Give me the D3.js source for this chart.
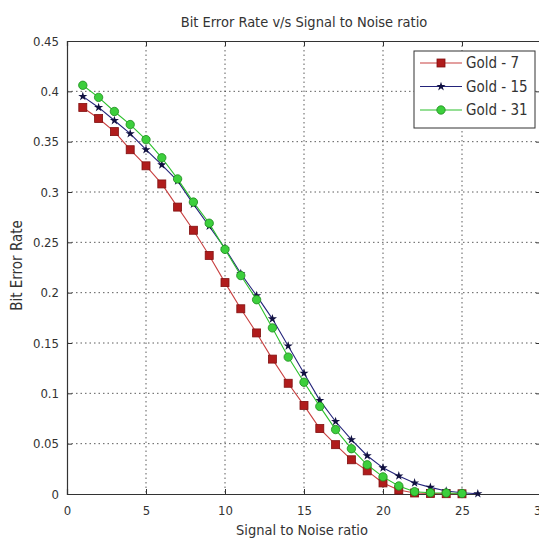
<!DOCTYPE html>
<html>
<head>
<meta charset="utf-8">
<script src="https://cdn.jsdelivr.net/npm/d3@7"></script>
<style>
  body { margin: 0; background: #fff; }
  svg { display: block; font-family: "Liberation Sans Narrow", "Arial Narrow", "DejaVu Sans Condensed", sans-serif; }
  .grid line { stroke: #333; stroke-dasharray: 1.5,3; stroke-width: 0.8; }
</style>
</head>
<body>
<svg id="chart" width="539" height="538"></svg>
<script>
// 数据
const snr = d3.range(1, 27);
const gold7 = [0.384, 0.373, 0.360, 0.342, 0.326, 0.308, 0.285, 0.262, 0.237, 0.210, 0.184, 0.160,
  0.134, 0.110, 0.088, 0.065, 0.049, 0.034, 0.023, 0.011, 0.004, 0.001, 0.0005, 0.0003, 0.0002];
const gold15 = [0.395, 0.384, 0.371, 0.358, 0.342, 0.327, 0.311, 0.288, 0.266, 0.244, 0.219, 0.197,
  0.174, 0.147, 0.120, 0.093, 0.072, 0.054, 0.038, 0.026, 0.018, 0.011, 0.0066, 0.003, 0.0013, 0.0003];
const gold31 = [0.406, 0.394, 0.380, 0.367, 0.352, 0.334, 0.313, 0.290, 0.269, 0.243, 0.217, 0.193,
  0.165, 0.136, 0.111, 0.087, 0.064, 0.045, 0.029, 0.017, 0.008, 0.0023, 0.0013, 0.001, 0.0005];
const xTicks = [0, 5, 10, 15, 20, 25, 30];
const yTicks = [0, 0.05, 0.1, 0.15, 0.2, 0.25, 0.3, 0.35, 0.4, 0.45];

const series = [
  { name: "Gold - 7", values: gold7, line: "#c84040", fill: "#b01c1c", edge: "#801010", marker: "square" },
  { name: "Gold - 15", values: gold15, line: "#23237a", fill: "#101040", edge: "#101040", marker: "star" },
  { name: "Gold - 31", values: gold31, line: "#2cc02c", fill: "#3ccf3c", edge: "#1c8a1c", marker: "circle" }
];

const svg = d3.select("#chart");
const margin = { left: 67, top: 41, right: 541, bottom: 494 };

const x = d3.scaleLinear().domain([0, 30]).range([margin.left, margin.right]);
const y = d3.scaleLinear().domain([0, 0.45]).range([margin.bottom, margin.top]);

// 网格
const grid = svg.append("g").attr("class", "grid");
grid.selectAll(".vx").data(xTicks.slice(1, -1)).enter().append("line")
  .attr("x1", d => x(d)).attr("x2", d => x(d))
  .attr("y1", margin.top).attr("y2", margin.bottom);
grid.selectAll(".hy").data(yTicks.slice(1, -1)).enter().append("line")
  .attr("y1", d => y(d)).attr("y2", d => y(d))
  .attr("x1", margin.left).attr("x2", margin.right);

// 坐标轴
const axisColor = "#333";
const bottomAxis = svg.append("g")
  .attr("transform", `translate(0,${margin.bottom})`)
  .call(d3.axisBottom(x).tickValues(xTicks).tickSize(-5).tickPadding(12).tickFormat(d3.format("d")));
const leftAxis = svg.append("g")
  .attr("transform", `translate(${margin.left},0)`)
  .call(d3.axisLeft(y).tickValues(yTicks).tickSize(-5).tickPadding(8).tickFormat(d => d === 0 ? "0" : String(d)));
const topAxis = svg.append("g")
  .attr("transform", `translate(0,${margin.top})`)
  .call(d3.axisTop(x).tickValues(xTicks).tickSize(-5).tickFormat(""));
const rightAxis = svg.append("g")
  .attr("transform", `translate(${margin.right},0)`)
  .call(d3.axisRight(y).tickValues(yTicks).tickSize(-5).tickFormat(""));

[bottomAxis, leftAxis, topAxis, rightAxis].forEach(g => {
  g.select(".domain").attr("stroke", axisColor).attr("stroke-width", 1.2);
  g.selectAll(".tick line").attr("stroke", axisColor);
  g.selectAll("text").attr("fill", "#333").attr("font-size", 13)
    .attr("font-family", "'Liberation Sans Narrow', 'Arial Narrow', 'DejaVu Sans Condensed', sans-serif");
});

// 曲线与标记
const line = d3.line().x((d, i) => x(snr[i])).y(d => y(d));
const star = d3.symbol().type(d3.symbolStar).size(26);

function drawMarker(g, s, cx, cy) {
  if (s.marker === "square") {
    g.append("rect").attr("x", cx - 4).attr("y", cy - 4).attr("width", 8).attr("height", 8)
      .attr("fill", s.fill).attr("stroke", s.edge).attr("stroke-width", 0.8);
  } else if (s.marker === "circle") {
    g.append("circle").attr("cx", cx).attr("cy", cy).attr("r", 4.2)
      .attr("fill", s.fill).attr("stroke", s.edge).attr("stroke-width", 0.8);
  } else {
    g.append("path").attr("d", star()).attr("transform", `translate(${cx},${cy})`)
      .attr("fill", s.fill);
  }
}

series.forEach(s => {
  const g = svg.append("g");
  g.append("path").datum(s.values).attr("d", line)
    .attr("fill", "none").attr("stroke", s.line).attr("stroke-width", 1.1);
  s.values.forEach((v, i) => drawMarker(g, s, x(snr[i]), y(v)));
});

// 标题和轴标签
svg.append("text").attr("x", (margin.left + margin.right) / 2).attr("y", 27)
  .attr("text-anchor", "middle").attr("font-size", 14.5).attr("fill", "#333")
  .text("Bit Error Rate v/s Signal to Noise ratio");
svg.append("text").attr("x", (margin.left + margin.right) / 2 - 2).attr("y", 535)
  .attr("text-anchor", "middle").attr("font-size", 14.5).attr("fill", "#333")
  .text("Signal to Noise ratio");
svg.append("text")
  .attr("transform", `translate(22,${(margin.top + margin.bottom) / 2 - 2}) rotate(-90)`)
  .attr("text-anchor", "middle").attr("font-size", 15).attr("fill", "#333")
  .text("Bit Error Rate");

// 图例
const legend = svg.append("g").attr("transform", "translate(414,51)");
legend.append("rect").attr("width", 121).attr("height", 77)
  .attr("fill", "#fff").attr("stroke", "#333").attr("stroke-width", 1);
series.forEach((s, i) => {
  const ly = 12 + i * 23.5;
  legend.append("line").attr("x1", 6).attr("x2", 48).attr("y1", ly).attr("y2", ly)
    .attr("stroke", s.line).attr("stroke-width", 1.1);
  drawMarker(legend, s, 27, ly);
  legend.append("text").attr("x", 52).attr("y", ly + 5)
    .attr("font-size", 15).attr("fill", "#333").text(s.name);
});
</script>
</body>
</html>
